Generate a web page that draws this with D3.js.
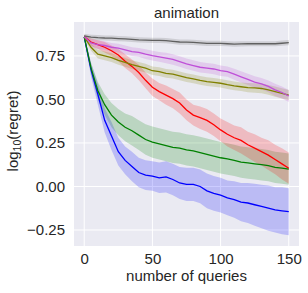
<!DOCTYPE html>
<html>
<head>
<meta charset="utf-8">
<script src="https://cdn.jsdelivr.net/npm/d3@7"></script>
<style>
  body { margin: 0; background: #fff; }
  svg text { font-family: "Liberation Sans", Arial, sans-serif; fill: #262626; }
</style>
</head>
<body>
<div id="chart"></div>
<script>
// queries sampled every 5 steps
const queries = d3.range(0, 151, 5)
const xTicks = [0, 50, 100, 150]
const yTicks = [-0.25, 0, 0.25, 0.5, 0.75]

const blueMean = [0.86, 0.67, 0.53, 0.38, 0.29, 0.2, 0.15, 0.115, 0.08, 0.065, 0.06, 0.05, 0.055, 0.04, 0.02, 0.012, 0.012, 0.0, -0.025, -0.04, -0.05, -0.065, -0.075, -0.09, -0.095, -0.105, -0.115, -0.125, -0.135, -0.14, -0.145]
const blueErr = [0.01, 0.04, 0.06, 0.07, 0.08, 0.08, 0.08, 0.085, 0.085, 0.085, 0.085, 0.088, 0.09, 0.09, 0.092, 0.095, 0.095, 0.097, 0.1, 0.1, 0.1, 0.1, 0.105, 0.11, 0.115, 0.12, 0.125, 0.13, 0.13, 0.135, 0.135]

const greenMean = [0.86, 0.68, 0.55, 0.47, 0.41, 0.37, 0.34, 0.32, 0.295, 0.27, 0.255, 0.245, 0.235, 0.225, 0.22, 0.21, 0.205, 0.195, 0.185, 0.175, 0.165, 0.158, 0.15, 0.14, 0.135, 0.13, 0.125, 0.12, 0.11, 0.105, 0.1]
const greenErr = [0.01, 0.03, 0.05, 0.06, 0.07, 0.075, 0.08, 0.085, 0.085, 0.088, 0.09, 0.09, 0.09, 0.09, 0.09, 0.09, 0.09, 0.09, 0.09, 0.09, 0.09, 0.09, 0.09, 0.09, 0.09, 0.09, 0.09, 0.09, 0.09, 0.09, 0.09]

const redMean = [0.86, 0.83, 0.815, 0.8, 0.78, 0.755, 0.72, 0.69, 0.655, 0.61, 0.57, 0.545, 0.525, 0.505, 0.48, 0.44, 0.41, 0.395, 0.38, 0.355, 0.325, 0.3, 0.28, 0.265, 0.24, 0.22, 0.2, 0.18, 0.155, 0.13, 0.105]
const redErr = [0.01, 0.02, 0.025, 0.03, 0.03, 0.035, 0.04, 0.04, 0.045, 0.045, 0.05, 0.05, 0.055, 0.055, 0.06, 0.06, 0.06, 0.065, 0.065, 0.065, 0.065, 0.07, 0.07, 0.075, 0.075, 0.08, 0.08, 0.085, 0.085, 0.09, 0.09]

const oliveMean = [0.86, 0.8, 0.76, 0.75, 0.74, 0.725, 0.713, 0.7, 0.69, 0.68, 0.665, 0.66, 0.65, 0.645, 0.635, 0.625, 0.618, 0.61, 0.603, 0.598, 0.593, 0.585, 0.578, 0.573, 0.568, 0.566, 0.563, 0.555, 0.545, 0.535, 0.525]
const oliveErr = [0.01, 0.02, 0.025, 0.025, 0.025, 0.025, 0.025, 0.025, 0.025, 0.025, 0.025, 0.025, 0.025, 0.025, 0.025, 0.025, 0.025, 0.025, 0.025, 0.025, 0.025, 0.025, 0.025, 0.025, 0.027, 0.027, 0.028, 0.028, 0.03, 0.03, 0.03]

const purpleMean = [0.86, 0.825, 0.815, 0.81, 0.8, 0.795, 0.785, 0.775, 0.77, 0.76, 0.752, 0.745, 0.738, 0.73, 0.718, 0.705, 0.695, 0.685, 0.68, 0.675, 0.665, 0.66, 0.645, 0.63, 0.615, 0.6, 0.59, 0.575, 0.555, 0.54, 0.52]
const purpleErr = [0.01, 0.02, 0.025, 0.025, 0.025, 0.025, 0.025, 0.025, 0.025, 0.028, 0.028, 0.028, 0.03, 0.03, 0.03, 0.03, 0.03, 0.03, 0.03, 0.03, 0.03, 0.03, 0.032, 0.032, 0.032, 0.033, 0.033, 0.034, 0.035, 0.035, 0.035]

const grayMean = [0.865, 0.858, 0.855, 0.853, 0.852, 0.85, 0.848, 0.845, 0.842, 0.841, 0.84, 0.839, 0.838, 0.834, 0.83, 0.829, 0.828, 0.825, 0.822, 0.822, 0.822, 0.82, 0.818, 0.819, 0.82, 0.82, 0.82, 0.82, 0.82, 0.823, 0.826]
const grayErr = [0.012, 0.014, 0.015, 0.015, 0.015, 0.015, 0.015, 0.015, 0.015, 0.015, 0.015, 0.015, 0.015, 0.015, 0.015, 0.015, 0.015, 0.015, 0.015, 0.015, 0.015, 0.015, 0.015, 0.015, 0.015, 0.015, 0.015, 0.015, 0.015, 0.015, 0.015]

const series = [
  { mean: blueMean, err: blueErr, color: '#0000ff' },
  { mean: greenMean, err: greenErr, color: '#008000' },
  { mean: redMean, err: redErr, color: '#ff0000' },
  { mean: oliveMean, err: oliveErr, color: '#808000' },
  { mean: purpleMean, err: purpleErr, color: '#bf4fd8' },
  { mean: grayMean, err: grayErr, color: '#606060' }
]

const width = 308
const height = 293
const m = { left: 74, right: 9, top: 22, bottom: 47 }
const fs = 15

const svg = d3.select('#chart')
  .append('svg')
  .attr('width', width)
  .attr('height', height)

const x = d3.scaleLinear().domain([-7.5, 157.5]).range([m.left, width - m.right])
const y = d3.scaleLinear().domain([-0.342, 0.945]).range([height - m.bottom, m.top])

// 背景 + 网格
svg.append('rect')
  .attr('x', m.left)
  .attr('y', m.top)
  .attr('width', width - m.left - m.right)
  .attr('height', height - m.top - m.bottom)
  .attr('fill', '#eaeaf2')

const grid = svg.append('g').attr('stroke', '#fff').attr('stroke-width', 1)
grid.selectAll('.vx').data(xTicks).enter().append('line')
  .attr('x1', d => x(d)).attr('x2', d => x(d))
  .attr('y1', m.top).attr('y2', height - m.bottom)
grid.selectAll('.hy').data(yTicks).enter().append('line')
  .attr('y1', d => y(d)).attr('y2', d => y(d))
  .attr('x1', m.left).attr('x2', width - m.right)

// 曲线和误差带
const plot = svg.append('g')
series.forEach(s => {
  const pts = queries.map((q, i) => ({ q, v: s.mean[i], e: s.err[i] }))
  plot.append('path')
    .datum(pts)
    .attr('fill', s.color)
    .attr('fill-opacity', 0.2)
    .attr('d', d3.area().x(d => x(d.q)).y0(d => y(d.v - d.e)).y1(d => y(d.v + d.e)))
})
series.forEach(s => {
  const pts = queries.map((q, i) => ({ q, v: s.mean[i] }))
  plot.append('path')
    .datum(pts)
    .attr('fill', 'none')
    .attr('stroke', s.color)
    .attr('stroke-width', 1.3)
    .attr('d', d3.line().x(d => x(d.q)).y(d => y(d.v)))
})

// 坐标轴
const xAxis = svg.append('g')
  .attr('transform', `translate(0,${height - m.bottom})`)
  .call(d3.axisBottom(x).tickValues(xTicks).tickSize(0).tickPadding(7))
const yAxis = svg.append('g')
  .attr('transform', `translate(${m.left},0)`)
  .call(d3.axisLeft(y).tickValues(yTicks).tickSize(0).tickPadding(9)
    .tickFormat(d => d3.format('.2f')(d).replace('-', '\u2212')))
;[xAxis, yAxis].forEach(a => {
  a.select('.domain').remove()
  a.selectAll('text').attr('font-size', fs).attr('fill', '#262626')
    .style('font-family', '"Liberation Sans", Arial, sans-serif')
})

svg.append('text')
  .attr('x', (m.left + width - m.right) / 2)
  .attr('y', 18)
  .attr('text-anchor', 'middle')
  .attr('font-size', fs)
  .text('animation')

svg.append('text')
  .attr('x', (m.left + width - m.right) / 2)
  .attr('y', 281)
  .attr('text-anchor', 'middle')
  .attr('font-size', fs)
  .text('number of queries')

const yl = svg.append('text')
  .attr('transform', `translate(18,131) rotate(-90)`)
  .attr('text-anchor', 'middle')
  .attr('font-size', fs)
yl.append('tspan').text('log')
yl.append('tspan').attr('font-size', 10.5).attr('dy', 3).text('10')
yl.append('tspan').attr('dy', -3).text('(regret)')
</script>
</body>
</html>
